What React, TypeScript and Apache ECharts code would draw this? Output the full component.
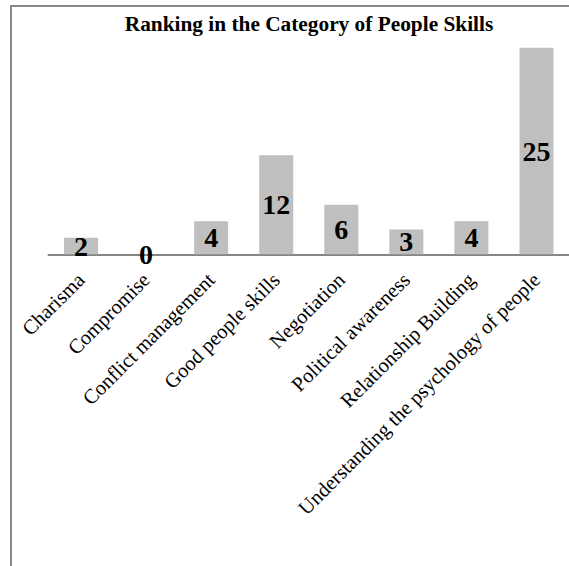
import React, { useEffect, useRef } from "react";
import * as echarts from "echarts";

const categories = [
  "Charisma",
  "Compromise",
  "Conflict management",
  "Good people skills",
  "Negotiation",
  "Political awareness",
  "Relationship Building",
  "Understanding the psychology of people",
];
const values = [2, 0, 4, 12, 6, 3, 4, 25];
const titleText = "Ranking in the Category of People Skills";

const FONT = "'Liberation Serif', 'Times New Roman', serif";

export default function App() {
  const ref = useRef<HTMLDivElement>(null);
  useEffect(() => {
    document.body.style.margin = "0";
    const chart = echarts.init(ref.current!, undefined, { renderer: "svg" });
    chart.setOption({
      animation: false,
      backgroundColor: "#ffffff",
      title: {
        text: titleText,
        left: 304,
        top: 8,
        textAlign: "center",
        textStyle: { fontFamily: FONT, fontSize: 21.33, fontWeight: "bold", color: "#000" },
      },
      graphic: [
        {
          type: "rect",
          shape: { x: 11, y: 6, width: 620, height: 620 },
          style: { fill: "none", stroke: "#888888", lineWidth: 2 },
          silent: true,
          z: 100,
        },
      ],
      grid: { left: 48.5, top: 47.7, width: 533, height: 206.6, containLabel: false },
      xAxis: {
        type: "category",
        data: categories,
        axisLine: { show: true, lineStyle: { color: "#868686", width: 2 } },
        axisTick: { show: false },
        axisLabel: {
          interval: 0,
          rotate: 45,
          margin: 22,
          fontFamily: FONT,
          fontSize: 20.5,
          color: "#000",
        },
      },
      yAxis: {
        type: "value",
        min: 0,
        max: 25,
        show: false,
        splitLine: { show: false },
      },
      series: [
        {
          type: "bar",
          data: values,
          barWidth: 34,
          itemStyle: { color: "#bfbfbf" },
          label: {
            show: true,
            position: "inside",
            fontFamily: FONT,
            fontSize: 28,
            fontWeight: "bold",
            color: "#000",
          },
        },
      ],
    });
    return () => chart.dispose();
  }, []);
  return <div ref={ref} style={{ width: 569, height: 566 }} />;
}
